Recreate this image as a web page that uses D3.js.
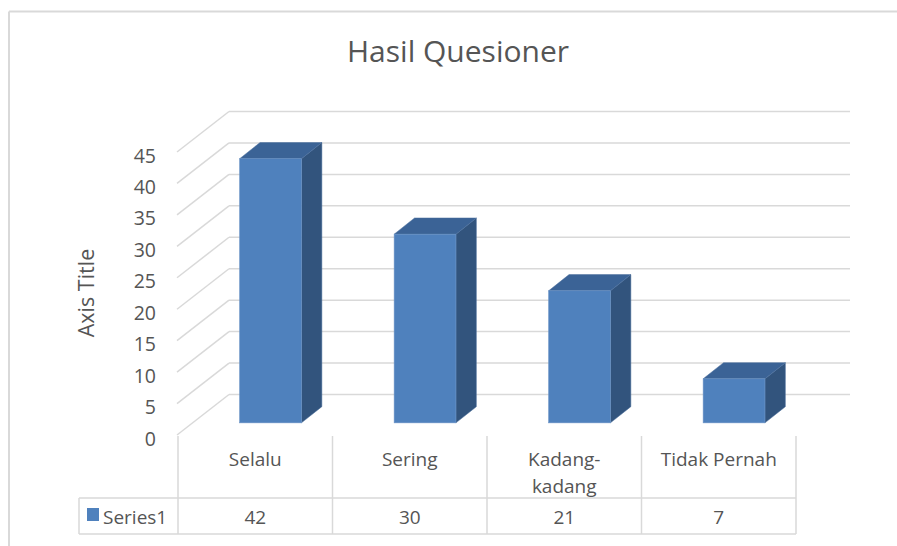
<!DOCTYPE html>
<html><head><meta charset="utf-8">
<script src="https://cdn.jsdelivr.net/npm/d3@7"></script>
<style>
html,body{margin:0;padding:0;background:#fff;}
svg{display:block;}
text{font-family:"Open Sans","Noto Sans",sans-serif;fill:#555555;}
</style></head>
<body>
<script>
const categories = ["Selalu", "Sering", "Kadang-kadang", "Tidak Pernah"];
const categoryLines = [["Selalu"], ["Sering"], ["Kadang-", "kadang"], ["Tidak Pernah"]];
const values = [42, 30, 21, 7];
const seriesName = "Series1";
const yTicks = [0, 5, 10, 15, 20, 25, 30, 35, 40, 45];
const chartTitle = "Hasil Quesioner";
const axisTitle = "Axis Title";

const W = 897, H = 546;
const svg = d3.select("body").append("svg").attr("width", W).attr("height", H);

// chart border (top & left visible)
svg.append("line").attr("x1", 9).attr("x2", W).attr("y1", 11.5).attr("y2", 11.5)
  .attr("stroke", "#d9d9d9").attr("stroke-width", 2);
svg.append("line").attr("x1", 9).attr("x2", 9).attr("y1", 11.5).attr("y2", H)
  .attr("stroke", "#d9d9d9").attr("stroke-width", 2);

// scales
const y = d3.scaleLinear().domain([0, 45]).range([435, 152]);
const x = d3.scaleBand().domain(categories).range([178, 796]).paddingInner(0).paddingOuter(0);
const depthDx = 51, depthDy = 40.5;
const backRight = 850;
const grid = "#d9d9d9";

// gridlines: side wall diagonals + back wall horizontals
const g = svg.append("g");
yTicks.forEach(v => {
  const yf = y(v);
  g.append("line").attr("x1", 177).attr("y1", yf).attr("x2", 178 + depthDx).attr("y2", yf - depthDy)
    .attr("stroke", grid).attr("stroke-width", 1.5);
  g.append("line").attr("x1", 178 + depthDx).attr("y1", yf - depthDy).attr("x2", backRight).attr("y2", yf - depthDy)
    .attr("stroke", grid).attr("stroke-width", 1.5);
});

// tick labels
svg.append("g").selectAll("text").data(yTicks).join("text")
  .attr("x", 156).attr("y", d => y(d) + 3).attr("text-anchor", "end")
  .attr("dominant-baseline", "central").attr("font-size", 19.5).text(d => d);

// axis title
svg.append("text").attr("transform", "translate(85,293) rotate(-90)")
  .attr("text-anchor", "middle").attr("dominant-baseline", "central")
  .attr("font-size", 21.5).text(axisTitle);

// title
svg.append("text").attr("x", 458).attr("y", 62).attr("text-anchor", "middle")
  .attr("font-size", 30).text(chartTitle);

// 3D bars
const f0 = 0.3, f1 = 0.7;
const bw = x.bandwidth() / 2.5;
const bars = svg.append("g");
categories.forEach((c, i) => {
  const v = values[i];
  const cx = x(c) + x.bandwidth() / 2 + f0 * depthDx;
  const x0 = cx - bw / 2, x1 = cx + bw / 2;
  const yb = y(0) - f0 * depthDy, yt = y(v) - f0 * depthDy;
  const dx = (f1 - f0) * depthDx, dy = (f1 - f0) * depthDy;
  // side
  bars.append("path").attr("d", `M${x1},${yb}L${x1 + dx},${yb - dy}L${x1 + dx},${yt - dy}L${x1},${yt}Z`)
    .attr("fill", "#32547d").attr("stroke", "#4a6f9c").attr("stroke-width", 0.5);
  // top
  bars.append("path").attr("d", `M${x0},${yt}L${x0 + dx},${yt - dy}L${x1 + dx},${yt - dy}L${x1},${yt}Z`)
    .attr("fill", "#3b6396").attr("stroke", "#4a6f9c").attr("stroke-width", 0.5);
  // front
  bars.append("rect").attr("x", x0).attr("y", yt).attr("width", bw).attr("height", yb - yt)
    .attr("fill", "#4f81bd").attr("stroke", "#6a93c6").attr("stroke-width", 0.6);
});

// data table
const tbl = svg.append("g");
const tStroke = "#d9d9d9";
const bounds = categories.map(c => x(c)).concat([x.range()[1]]);
bounds.forEach(bx => {
  tbl.append("line").attr("x1", bx).attr("x2", bx).attr("y1", 436).attr("y2", 534)
    .attr("stroke", tStroke).attr("stroke-width", 1.5);
});
[498, 534].forEach(ly => {
  tbl.append("line").attr("x1", 79).attr("x2", 796).attr("y1", ly).attr("y2", ly)
    .attr("stroke", tStroke).attr("stroke-width", 1.5);
});
tbl.append("line").attr("x1", 79).attr("x2", 79).attr("y1", 498).attr("y2", 534)
  .attr("stroke", tStroke).attr("stroke-width", 1.5);

categories.forEach((c, i) => {
  const cx = x(c) + x.bandwidth() / 2;
  const lines = categoryLines[i];
  lines.forEach((ln, j) => {
    tbl.append("text").attr("x", cx).attr("y", 459 + j * 27)
      .attr("text-anchor", "middle").attr("dominant-baseline", "central")
      .attr("font-size", 19).text(ln);
  });
  tbl.append("text").attr("x", cx).attr("y", 517)
    .attr("text-anchor", "middle").attr("dominant-baseline", "central")
    .attr("font-size", 19).text(values[i]);
});
tbl.append("rect").attr("x", 87).attr("y", 508).attr("width", 12).attr("height", 13).attr("fill", "#4f81bd");
tbl.append("text").attr("x", 103).attr("y", 516.5).attr("dominant-baseline", "central")
  .attr("font-size", 19).text(seriesName);
</script>
</body></html>
